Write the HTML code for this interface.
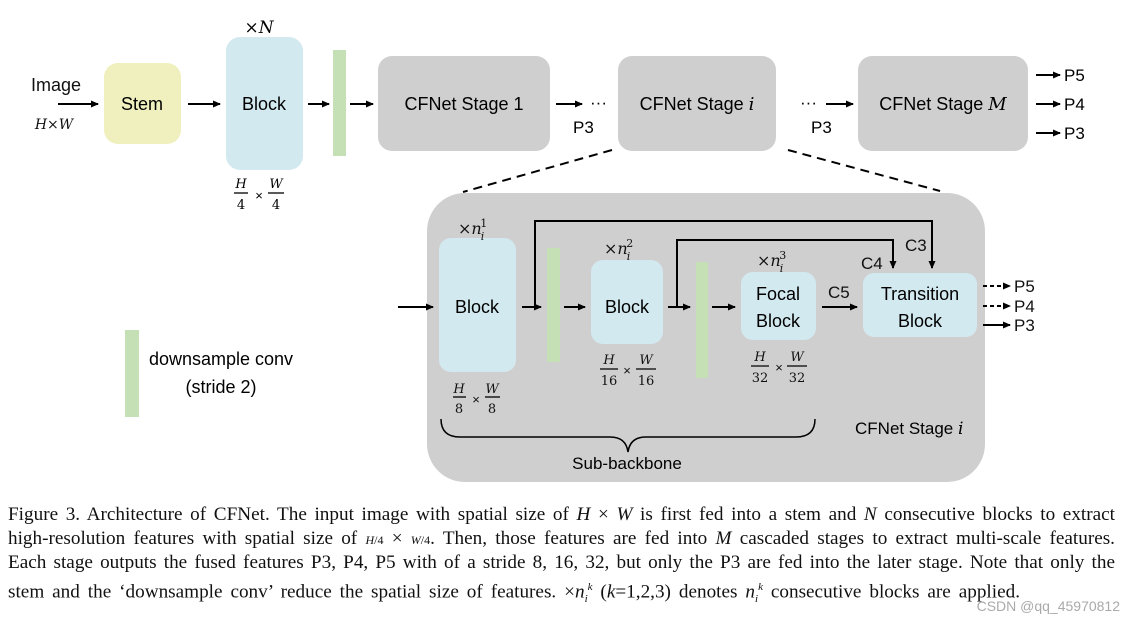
<!DOCTYPE html>
<html><head><meta charset="utf-8"><style>
body{margin:0;background:#fff;width:1135px;height:623px;overflow:hidden;position:relative}
svg{position:absolute;left:0;top:0}
.cap{position:absolute;left:8px;width:1107px;font-family:"Liberation Serif",serif;font-size:19.2px;color:#111;text-align:justify;text-align-last:justify;white-space:nowrap;line-height:20px}
.cap i{font-style:italic}
</style></head><body>
<svg width="1135" height="623" viewBox="0 0 1135 623" font-family="Liberation Sans, sans-serif">
<defs><marker id="a" markerWidth="8" markerHeight="8" refX="7" refY="4" orient="auto" markerUnits="userSpaceOnUse"><path d="M0,0.5 L8,4 L0,7.5z" fill="#000"/></marker></defs>
<g fill="#111" font-size="18">
<text x="56" y="91" text-anchor="middle">Image</text>
<text x="54" y="129" text-anchor="middle" font-family="DejaVu Serif, serif" font-style="italic" font-size="14">H×W</text>
</g>
<rect x="104" y="63" width="77" height="81" rx="14" fill="#eff0bd"/>
<text x="142" y="110" text-anchor="middle" font-size="18">Stem</text>
<rect x="226" y="37" width="77" height="133" rx="14" fill="#d2e9f0"/>
<text x="264" y="110" text-anchor="middle" font-size="18">Block</text>
<text x="259" y="33" text-anchor="middle" font-size="17" font-family="DejaVu Serif, serif"><tspan font-style="normal">×</tspan><tspan font-style="italic">N</tspan></text>
<g font-family="DejaVu Serif, serif" font-style="italic" font-size="13" text-anchor="middle">
<text x="241" y="188">H</text><line x1="234" y1="193" x2="248" y2="193" stroke="#000" stroke-width="1.3"/><text x="241" y="209" font-style="normal">4</text>
<text x="259" y="200" font-style="normal" font-family="Liberation Sans, sans-serif">×</text>
<text x="276" y="188">W</text><line x1="268" y1="193" x2="284" y2="193" stroke="#000" stroke-width="1.3"/><text x="276" y="209" font-style="normal">4</text>
</g>
<rect x="333" y="50" width="13" height="106" fill="#c5e0b4"/>
<rect x="378" y="56" width="172" height="95" rx="14" fill="#d0cfd0"/>
<text x="464" y="110" text-anchor="middle" font-size="18">CFNet Stage 1</text>
<rect x="618" y="56" width="158" height="95" rx="14" fill="#d0cfd0"/>
<text x="697" y="110" text-anchor="middle" font-size="18">CFNet Stage <tspan font-family="DejaVu Serif, serif" font-style="italic">i</tspan></text>
<rect x="858" y="56" width="170" height="95" rx="14" fill="#d0cfd0"/>
<text x="943" y="110" text-anchor="middle" font-size="18">CFNet Stage <tspan font-family="DejaVu Serif, serif" font-style="italic">M</tspan></text>
<g stroke="#000" stroke-width="2" marker-end="url(#a)">
<line x1="58" y1="104" x2="98" y2="104"/><line x1="188" y1="104" x2="220" y2="104"/>
<line x1="308" y1="104" x2="329" y2="104"/><line x1="350" y1="104" x2="373" y2="104"/>
<line x1="556" y1="104" x2="582" y2="104"/><line x1="826" y1="104" x2="853" y2="104"/>
<line x1="1036" y1="75" x2="1060" y2="75"/><line x1="1036" y1="104" x2="1060" y2="104"/><line x1="1036" y1="133" x2="1060" y2="133"/>
</g>
<g font-size="17"><text x="590" y="108">···</text><text x="800" y="108">···</text>
<text x="573" y="133">P3</text><text x="811" y="133">P3</text>
<text x="1064" y="81">P5</text><text x="1064" y="110">P4</text><text x="1064" y="139">P3</text></g>
<g stroke="#000" stroke-width="2" stroke-dasharray="9,6"><line x1="612" y1="150" x2="463" y2="192"/><line x1="788" y1="150" x2="940" y2="191"/></g>
<rect x="427" y="193" width="558" height="289" rx="38" fill="#d0cfd0"/>
<rect x="439" y="238" width="77" height="134" rx="12" fill="#d2e9f0"/>
<text x="477" y="313" text-anchor="middle" font-size="18">Block</text>
<rect x="547" y="248" width="13" height="114" fill="#c5e0b4"/>
<rect x="591" y="260" width="72" height="84" rx="12" fill="#d2e9f0"/>
<text x="627" y="313" text-anchor="middle" font-size="18">Block</text>
<rect x="696" y="262" width="12" height="116" fill="#c5e0b4"/>
<rect x="741" y="272" width="75" height="68" rx="12" fill="#d2e9f0"/>
<text x="778" y="300" text-anchor="middle" font-size="18">Focal</text><text x="778" y="327" text-anchor="middle" font-size="18">Block</text>
<rect x="863" y="273" width="114" height="64" rx="11" fill="#d2e9f0"/>
<text x="920" y="300" text-anchor="middle" font-size="18">Transition</text><text x="920" y="327" text-anchor="middle" font-size="18">Block</text>
<g font-family="DejaVu Serif, serif" font-size="16" fill="#111">
<text x="458" y="234">×<tspan font-style="italic">n</tspan><tspan font-style="italic" font-size="11" dy="6" dx="-1">i</tspan><tspan font-size="11" dy="-13" dx="-4">1</tspan></text>
<text x="604" y="254">×<tspan font-style="italic">n</tspan><tspan font-style="italic" font-size="11" dy="6" dx="-1">i</tspan><tspan font-size="11" dy="-13" dx="-4">2</tspan></text>
<text x="757" y="266">×<tspan font-style="italic">n</tspan><tspan font-style="italic" font-size="11" dy="6" dx="-1">i</tspan><tspan font-size="11" dy="-13" dx="-4">3</tspan></text>
</g>
<g font-family="DejaVu Serif, serif" font-style="italic" font-size="13" text-anchor="middle" fill="#111">
<text x="459" y="393">H</text><line x1="453" y1="397" x2="466" y2="397" stroke="#000" stroke-width="1.3"/><text x="459" y="413" font-style="normal">8</text>
<text x="476" y="404" font-style="normal" font-family="Liberation Sans, sans-serif">×</text>
<text x="492" y="393">W</text><line x1="485" y1="397" x2="500" y2="397" stroke="#000" stroke-width="1.3"/><text x="492" y="413" font-style="normal">8</text>
<text x="609" y="364">H</text><line x1="600" y1="369" x2="618" y2="369" stroke="#000" stroke-width="1.3"/><text x="609" y="385" font-style="normal">16</text>
<text x="627" y="375" font-style="normal" font-family="Liberation Sans, sans-serif">×</text>
<text x="646" y="364">W</text><line x1="636" y1="369" x2="656" y2="369" stroke="#000" stroke-width="1.3"/><text x="646" y="385" font-style="normal">16</text>
<text x="760" y="361">H</text><line x1="751" y1="366" x2="769" y2="366" stroke="#000" stroke-width="1.3"/><text x="760" y="382" font-style="normal">32</text>
<text x="779" y="372" font-style="normal" font-family="Liberation Sans, sans-serif">×</text>
<text x="797" y="361">W</text><line x1="787" y1="366" x2="807" y2="366" stroke="#000" stroke-width="1.3"/><text x="797" y="382" font-style="normal">32</text>
</g>
<g stroke="#000" stroke-width="2" fill="none">
<polyline points="535,307 535,221 932,221 932,268" marker-end="url(#a)"/>
<polyline points="677,307 677,240 893,240 893,268" marker-end="url(#a)"/>
</g>
<g stroke="#000" stroke-width="2" marker-end="url(#a)">
<line x1="398" y1="307" x2="433" y2="307"/><line x1="522" y1="307" x2="541" y2="307"/>
<line x1="564" y1="307" x2="585" y2="307"/><line x1="668" y1="307" x2="690" y2="307"/>
<line x1="712" y1="307" x2="735" y2="307"/><line x1="822" y1="307" x2="857" y2="307"/>
<line x1="983" y1="325" x2="1010" y2="325"/>
<line x1="983" y1="286" x2="1010" y2="286" stroke-dasharray="4,3"/><line x1="983" y1="306" x2="1010" y2="306" stroke-dasharray="4,3"/>
</g>
<g font-size="17" fill="#111"><text x="828" y="298">C5</text><text x="861" y="269">C4</text><text x="905" y="251">C3</text>
<text x="1014" y="292">P5</text><text x="1014" y="312">P4</text><text x="1014" y="331">P3</text></g>
<path d="M441,419 Q441,437 460,437 L610,437 Q626,437 628,452 Q630,437 646,437 L796,437 Q815,437 815,419" stroke="#000" stroke-width="1.5" fill="none"/>
<text x="627" y="469" text-anchor="middle" font-size="17">Sub-backbone</text>
<text x="855" y="434" font-size="17">CFNet Stage <tspan font-family="DejaVu Serif, serif" font-style="italic">i</tspan></text>
<rect x="125" y="330" width="14" height="87" fill="#c5e0b4"/>
<text x="221" y="365" text-anchor="middle" font-size="18">downsample conv</text>
<text x="221" y="393" text-anchor="middle" font-size="18">(stride 2)</text>
<text x="1120" y="611" text-anchor="end" font-size="14" fill="#aaa">CSDN @qq_45970812</text>
</svg>
<div class="cap" style="top:505px">Figure 3. Architecture of CFNet. The input image with spatial size of <i>H</i> × <i>W</i> is first fed into a stem and <i>N</i> consecutive blocks to extract</div>
<div class="cap" style="top:529px">high-resolution features with spatial size of <span style="font-size:12px"><i>H</i>/4</span> × <span style="font-size:12px"><i>W</i>/4</span>. Then, those features are fed into <i>M</i> cascaded stages to extract multi-scale features.</div>
<div class="cap" style="top:553px">Each stage outputs the fused features P3, P4, P5 with of a stride 8, 16, 32, but only the P3 are fed into the later stage. Note that only the</div>
<div class="cap" style="top:577px;width:1012px">stem and the ‘downsample conv’ reduce the spatial size of features. ×<i>n</i><sub style="font-size:11px"><i>i</i></sub><sup style="font-size:11px"><i>k</i></sup> (<i>k</i>=1,2,3) denotes <i>n</i><sub style="font-size:11px"><i>i</i></sub><sup style="font-size:11px"><i>k</i></sup> consecutive blocks are applied.</div>
</body></html>
